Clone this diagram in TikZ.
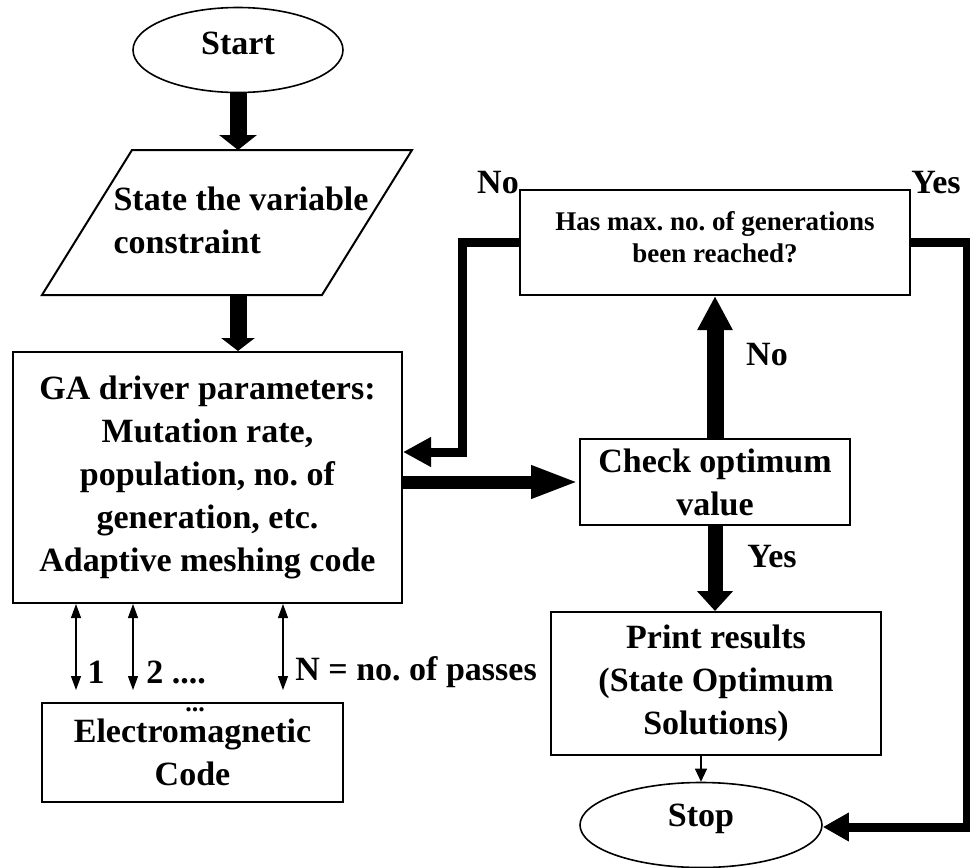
\documentclass[tikz,border=0pt]{standalone}
\usepackage{fontspec}
\setmainfont{Liberation Serif}
\usepackage{tikz}
\usetikzlibrary{arrows.meta,shapes.geometric}
\frenchspacing
\tikzset{
    every node/.style={font=\fontsize{17}{21.5}\selectfont\bfseries},
    mybox/.style={draw=black,line width=1pt,rectangle,align=center,inner sep=0pt},
    myterm/.style={draw=black,line width=0.8pt,ellipse,inner sep=0pt,minimum width=#1},
    myfat/.style={line width=8.5pt,-{Triangle[length=8pt,width=17.5pt]}},
    myloop/.style={line width=4.5pt,line join=miter,-{Triangle[length=14pt,width=14pt]}},
    mythin/.style={line width=0.6pt,{Triangle[length=7pt,width=5pt]}-{Triangle[length=7pt,width=5pt]}},
    mylab/.style={inner sep=0pt}
}
\begin{document}
\begin{tikzpicture}[x=0.5pt,y=-0.5pt]
  \useasboundingbox (0,0) rectangle (970,868);

  \node[myterm=105pt,minimum height=42.5pt,text depth=7pt] (start) at (238,50) {Start};

  % input parallelogram
  \coordinate (P1) at (132,150);
  \coordinate (P2) at (412,150);
  \coordinate (P3) at (322,295);
  \coordinate (P4) at (42,295);
  \draw[line width=1pt] (P1)--(P2)--(P3)--(P4)--cycle;
  \node[align=left,inner sep=0pt] (input) at (241,220) {State the variable\\constraint};
  \coordinate (inT) at (238,150);
  \coordinate (inB) at (238,295);

  \node[mybox,minimum width=194.5pt,minimum height=125.5pt] (ga) at (207.5,477.5)
    {GA driver parameters:\\Mutation rate,\\population, no. of\\generation, etc.\\Adaptive meshing code};
  \node[mybox,minimum width=150.5pt,minimum height=49.5pt] (em) at (192.5,752.5)
    {Electromagnetic\\Code};
  \node[mylab,font=\fontsize{13}{13}\selectfont\bfseries] (dots) at (195,710) {...};

  \node[mybox,minimum width=135pt,minimum height=43pt] (check) at (715,482)
    {Check optimum\\value};
  \node[mybox,minimum width=195pt,minimum height=52.5pt,
        font=\fontsize{13.5}{16}\selectfont\bfseries] (has) at (715,242.5)
    {Has max. no. of generations\\been reached?\\[-10pt]};
  \node[mybox,minimum width=165pt,minimum height=71.5pt] (print) at (716,683.5)
    {Print results\\(State Optimum\\Solutions)};
  \node[myterm=121pt,minimum height=42.5pt,text depth=10pt] (stop) at (701,825) {Stop};

  % main flow
  \draw[myfat,-{Triangle[length=7.5pt,width=18.5pt]}] (start) -- (inT);
  \draw[myfat,-{Triangle[length=6.5pt,width=16.5pt]}] (inB) -- (inB |- ga.north);
  \draw[myfat,line width=6.5pt,-{Triangle[length=24pt,width=15pt]}] (ga.east |- check.west) -- (check.west);
  \draw[myfat,-{Triangle[length=17pt,width=16.5pt]}] (check.north) -- (has.south);
  \draw[myfat,line width=7.5pt,-{Triangle[length=10pt,width=17.5pt]}] (check.south) -- (check.south |- print.north);
  \draw[line width=0.6pt,-{Triangle[length=6.5pt,width=6pt]}] (stop.north |- print.south) -- (stop.north);

  % loops back from the generation test
  \coordinate (noturn) at (462,452);
  \coordinate (yesturn) at (967,827);
  \draw[myloop] (has.west) -| (noturn) -- (noturn -| ga.east);
  \draw[myloop,-{Triangle[length=13pt,width=13.5pt]}] (has.east) -| (yesturn) -- (yesturn -| stop.east);

  % passes to the solver
  \foreach \x in {76,133,283}{
    \draw[mythin] (ga.south -| \x,0) -- (\x,690);
  }
  \node[mylab] (p1) at (96,672) {1};
  \node[mylab,anchor=west] (p2) at (146,672) {2 ....};
  \node[mylab,anchor=west] (pn) at (295,672) {N = no. of passes};

  \node[mylab] (hasno) at (498,183) {No};
  \node[mylab] (hasyes) at (936,183) {Yes};
  \node[mylab] (chkno) at (767,355) {No};
  \node[mylab] (chkyes) at (772,557) {Yes};
\end{tikzpicture}
\end{document}
